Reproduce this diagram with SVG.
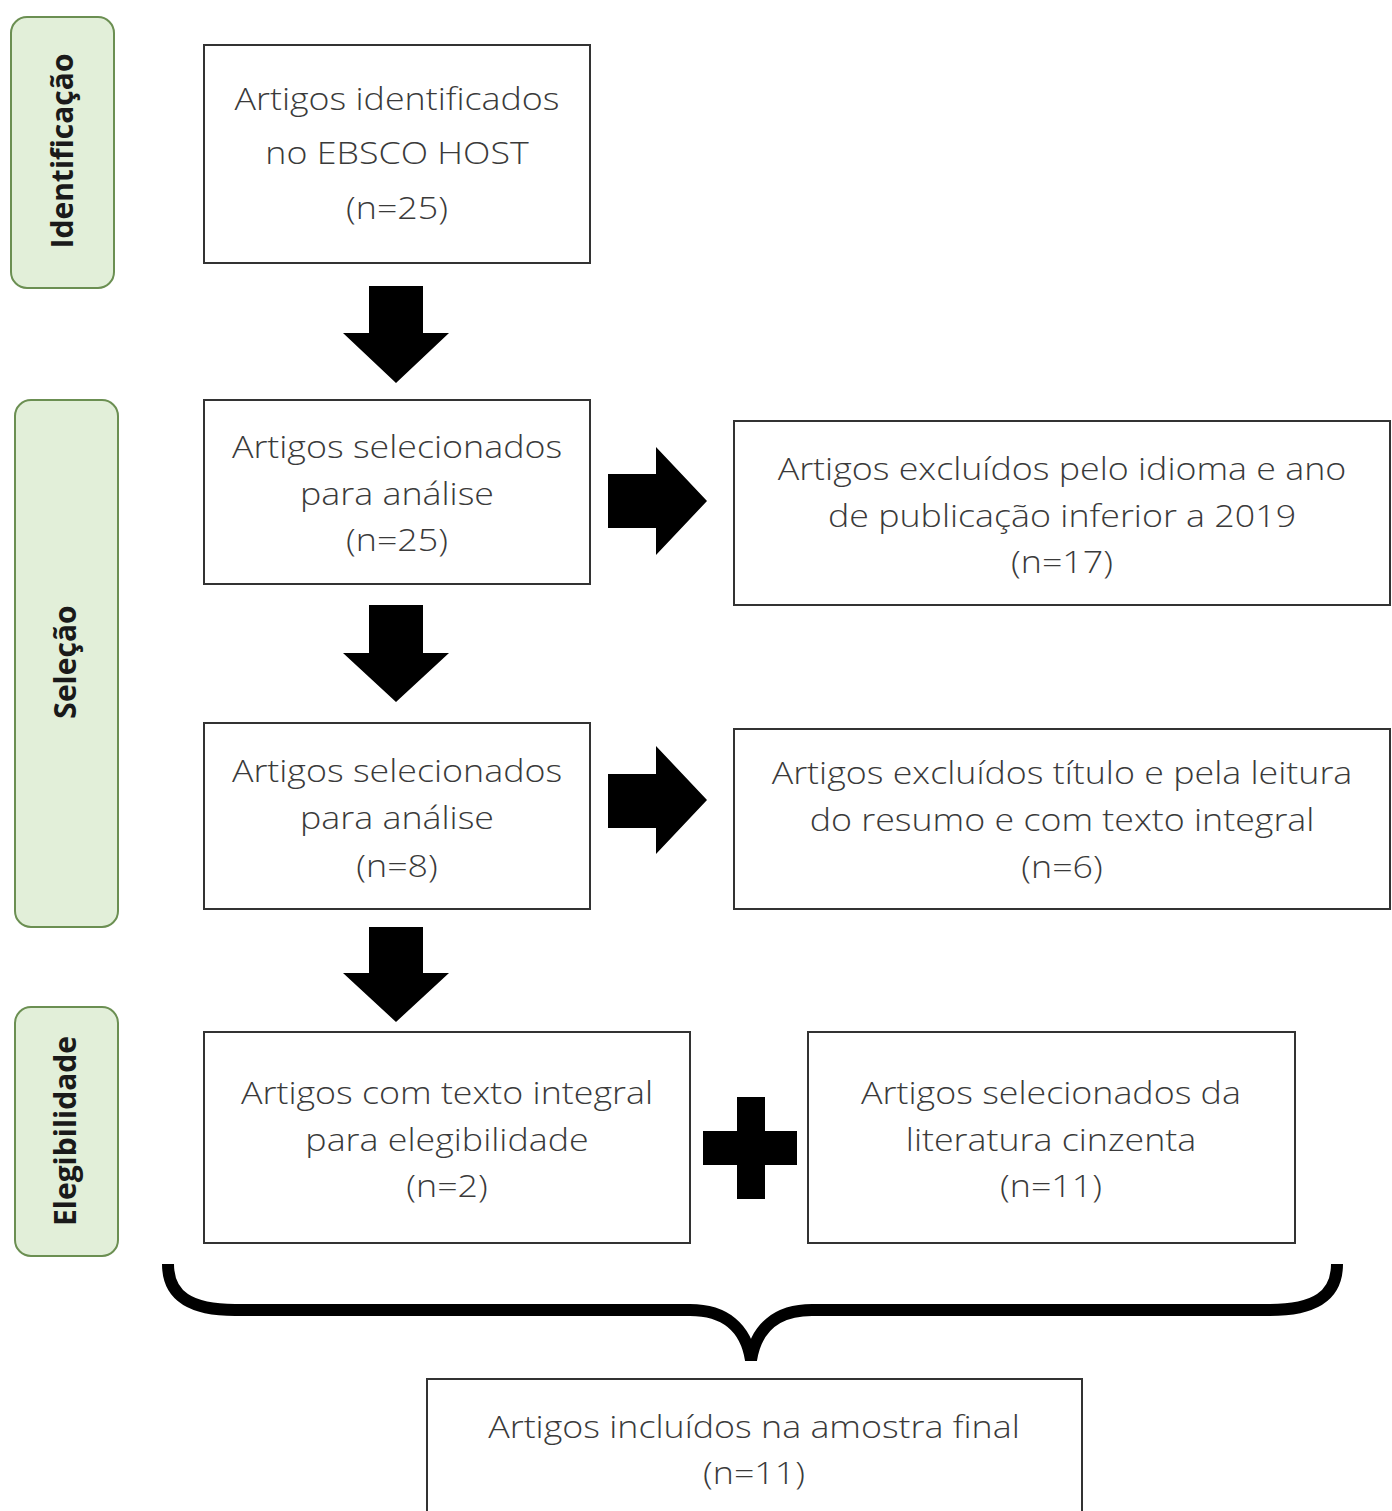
<svg xmlns="http://www.w3.org/2000/svg" width="1392" height="1511" viewBox="0 0 1392 1511">
<style>
.stage rect{fill:#e2efd9;stroke:#6b8f52;stroke-width:2}
.stage text{font-family:"Open Sans","DejaVu Sans",sans-serif;font-weight:700;font-size:30px;fill:#1a1a1a;text-anchor:middle}
.box rect{fill:#fff;stroke:#333;stroke-width:2}
.box text{font-family:"Open Sans","Liberation Sans",sans-serif;font-weight:300;font-size:31px;fill:#3a3a3a;text-anchor:middle}
.arrow{fill:#000}
</style>
<rect width="1392" height="1511" fill="#fff"/>
<g id="stage-identificacao" class="stage">
<rect x="11" y="17" width="103" height="271" rx="16"/>
<text transform="translate(73,151) rotate(-90)">Identificação</text>
</g>
<g id="stage-selecao" class="stage">
<rect x="15" y="400" width="103" height="527" rx="16"/>
<text transform="translate(76,662) rotate(-90)">Seleção</text>
</g>
<g id="stage-elegibilidade" class="stage">
<rect x="15" y="1007" width="103" height="249" rx="16"/>
<text transform="translate(76,1131) rotate(-90)">Elegibilidade</text>
</g>
<g id="box-identificados" class="box">
<rect x="204" y="45" width="386" height="218"/>
<text transform="translate(397,110) scale(1.155,1)">Artigos identificados</text>
<text transform="translate(397,164) scale(1.155,1)">no EBSCO HOST</text>
<text transform="translate(397,219) scale(1.155,1)">(n=25)</text>
</g>
<g id="box-selecionados-1" class="box">
<rect x="204" y="400" width="386" height="184"/>
<text transform="translate(397,458) scale(1.155,1)">Artigos selecionados</text>
<text transform="translate(397,505) scale(1.155,1)">para análise</text>
<text transform="translate(397,551) scale(1.155,1)">(n=25)</text>
</g>
<g id="box-excluidos-1" class="box">
<rect x="734" y="421" width="656" height="184"/>
<text transform="translate(1062,480) scale(1.155,1)">Artigos excluídos pelo idioma e ano</text>
<text transform="translate(1062,527) scale(1.155,1)">de publicação inferior a 2019</text>
<text transform="translate(1062,573) scale(1.155,1)">(n=17)</text>
</g>
<g id="box-selecionados-2" class="box">
<rect x="204" y="723" width="386" height="186"/>
<text transform="translate(397,782) scale(1.155,1)">Artigos selecionados</text>
<text transform="translate(397,829) scale(1.155,1)">para análise</text>
<text transform="translate(397,877) scale(1.155,1)">(n=8)</text>
</g>
<g id="box-excluidos-2" class="box">
<rect x="734" y="729" width="656" height="180"/>
<text transform="translate(1062,784) scale(1.155,1)">Artigos excluídos título e pela leitura</text>
<text transform="translate(1062,831) scale(1.155,1)">do resumo e com texto integral</text>
<text transform="translate(1062,878) scale(1.155,1)">(n=6)</text>
</g>
<g id="box-texto-integral" class="box">
<rect x="204" y="1032" width="486" height="211"/>
<text transform="translate(447,1104) scale(1.155,1)">Artigos com texto integral</text>
<text transform="translate(447,1151) scale(1.155,1)">para elegibilidade</text>
<text transform="translate(447,1197) scale(1.155,1)">(n=2)</text>
</g>
<g id="box-literatura-cinzenta" class="box">
<rect x="808" y="1032" width="487" height="211"/>
<text transform="translate(1051,1104) scale(1.155,1)">Artigos selecionados da</text>
<text transform="translate(1051,1151) scale(1.155,1)">literatura cinzenta</text>
<text transform="translate(1051,1197) scale(1.155,1)">(n=11)</text>
</g>
<g id="box-amostra-final" class="box">
<rect x="427" y="1379" width="655" height="150"/>
<text transform="translate(754,1438) scale(1.155,1)">Artigos incluídos na amostra final</text>
<text transform="translate(754,1484) scale(1.155,1)">(n=11)</text>
</g>
<g id="connectors">
<polygon class="arrow" points="369,286 423,286 423,333 449,333 396,383 343,333 369,333"/>
<polygon class="arrow" points="369,605 423,605 423,653 449,653 396,702 343,653 369,653"/>
<polygon class="arrow" points="369,927 423,927 423,973 449,973 396,1022 343,973 369,973"/>
<polygon class="arrow" points="608,474 656,474 656,447 707,501 656,555 656,528 608,528"/>
<polygon class="arrow" points="608,774 656,774 656,746 707,800 656,854 656,828 608,828"/>
<polygon class="arrow" points="737,1097 765,1097 765,1131 797,1131 797,1165 765,1165 765,1199 737,1199 737,1165 703,1165 703,1131 737,1131"/>
<path d="M168,1264 C168,1296 190,1310 235,1310 L690,1310 C725,1310 746,1328 751,1360 C756,1328 777,1310 812,1310 L1270,1310 C1315,1310 1337,1296 1337,1264" fill="none" stroke="#000" stroke-width="12" stroke-linejoin="miter"/>
</g>
</svg>
